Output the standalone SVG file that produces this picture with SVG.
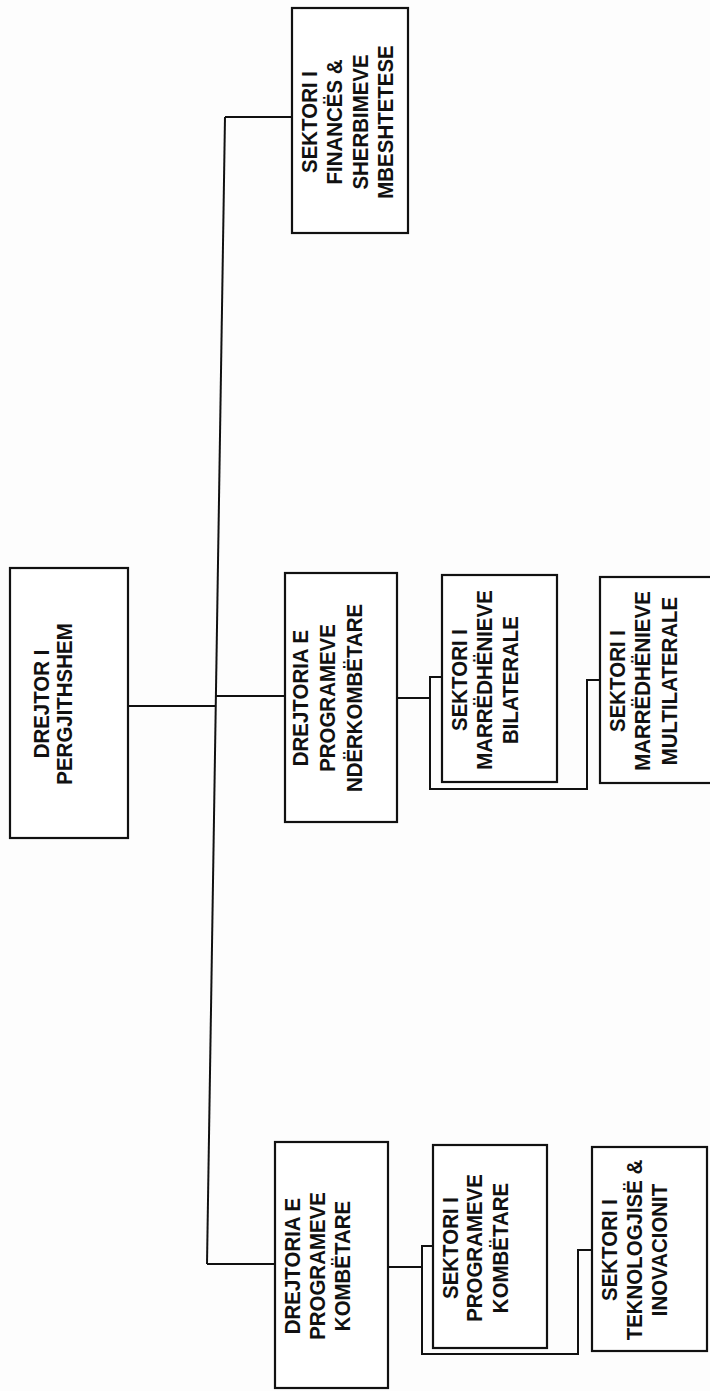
<svg xmlns="http://www.w3.org/2000/svg" width="710" height="1391" viewBox="0 0 710 1391">
<style>
.box{fill:#fff;stroke:#111;stroke-width:2.2}
.ln{fill:none;stroke:#111;stroke-width:2}
.t{font-family:"Liberation Sans",Arial,sans-serif;font-weight:bold;font-size:22px;fill:#111;text-anchor:middle}
</style>
<rect width="710" height="1391" fill="#fdfdfd"/>
<g id="connectors">
<line class="ln" x1="225" y1="117" x2="207" y2="1264"/>
<line class="ln" x1="225" y1="117" x2="292" y2="117"/>
<line class="ln" x1="128" y1="706" x2="216" y2="706"/>
<line class="ln" x1="216" y1="696" x2="285" y2="696"/>
<line class="ln" x1="207" y1="1264" x2="275" y2="1264"/>
<line class="ln" x1="397" y1="698" x2="430" y2="698"/>
<polyline class="ln" points="442,677 430,677 430,789 587,789 587,680 600,680"/>
<line class="ln" x1="388" y1="1267" x2="422" y2="1267"/>
<polyline class="ln" points="433,1246 422,1246 422,1354 578,1354 578,1250 592,1250"/>
</g>
<g id="drejtor">
<rect class="box" x="10" y="568" width="118" height="270"/>
<text class="t" transform="translate(0,704) rotate(-90) scale(0.93,1)"><tspan x="0" y="49">DREJTOR I</tspan><tspan x="0" y="72">PERGJITHSHEM</tspan></text>
</g>
<g id="financa">
<rect class="box" x="292" y="8" width="116" height="225"/>
<text class="t" transform="translate(0,122) rotate(-90) scale(0.93,1)"><tspan x="0" y="317">SEKTORI I</tspan><tspan x="0" y="342">FINANCËS &amp;</tspan><tspan x="0" y="368">SHERBIMEVE</tspan><tspan x="0" y="393">MBESHTETESE</tspan></text>
</g>
<g id="nderkombetare">
<rect class="box" x="285" y="573" width="112" height="249"/>
<text class="t" transform="translate(0,698) rotate(-90) scale(0.93,1)"><tspan x="0" y="308">DREJTORIA E</tspan><tspan x="0" y="335">PROGRAMEVE</tspan><tspan x="0" y="362">NDËRKOMBËTARE</tspan></text>
</g>
<g id="bilaterale">
<rect class="box" x="442" y="575" width="115" height="207"/>
<text class="t" transform="translate(0,680) rotate(-90) scale(0.93,1)"><tspan x="0" y="467">SEKTORI I</tspan><tspan x="0" y="492">MARRËDHËNIEVE</tspan><tspan x="0" y="518">BILATERALE</tspan></text>
</g>
<g id="multilaterale">
<rect class="box" x="600" y="577" width="125" height="206"/>
<text class="t" transform="translate(0,681) rotate(-90) scale(0.93,1)"><tspan x="0" y="625">SEKTORI I</tspan><tspan x="0" y="650">MARRËDHËNIEVE</tspan><tspan x="0" y="677">MULTILATERALE</tspan></text>
</g>
<g id="kombetare">
<rect class="box" x="275" y="1142" width="113" height="246"/>
<text class="t" transform="translate(0,1266) rotate(-90) scale(0.93,1)"><tspan x="0" y="300">DREJTORIA E</tspan><tspan x="0" y="325">PROGRAMEVE</tspan><tspan x="0" y="350">KOMBËTARE</tspan></text>
</g>
<g id="sektori-kombetare">
<rect class="box" x="433" y="1145" width="114" height="203"/>
<text class="t" transform="translate(0,1248) rotate(-90) scale(0.93,1)"><tspan x="0" y="458">SEKTORI I</tspan><tspan x="0" y="482">PROGRAMEVE</tspan><tspan x="0" y="508">KOMBËTARE</tspan></text>
</g>
<g id="teknologji">
<rect class="box" x="592" y="1147" width="115" height="204"/>
<text class="t" transform="translate(0,1250) rotate(-90) scale(0.93,1)"><tspan x="0" y="617">SEKTORI I</tspan><tspan x="0" y="642">TEKNOLOGJISË &amp;</tspan><tspan x="0" y="667">INOVACIONIT</tspan></text>
</g>
</svg>
